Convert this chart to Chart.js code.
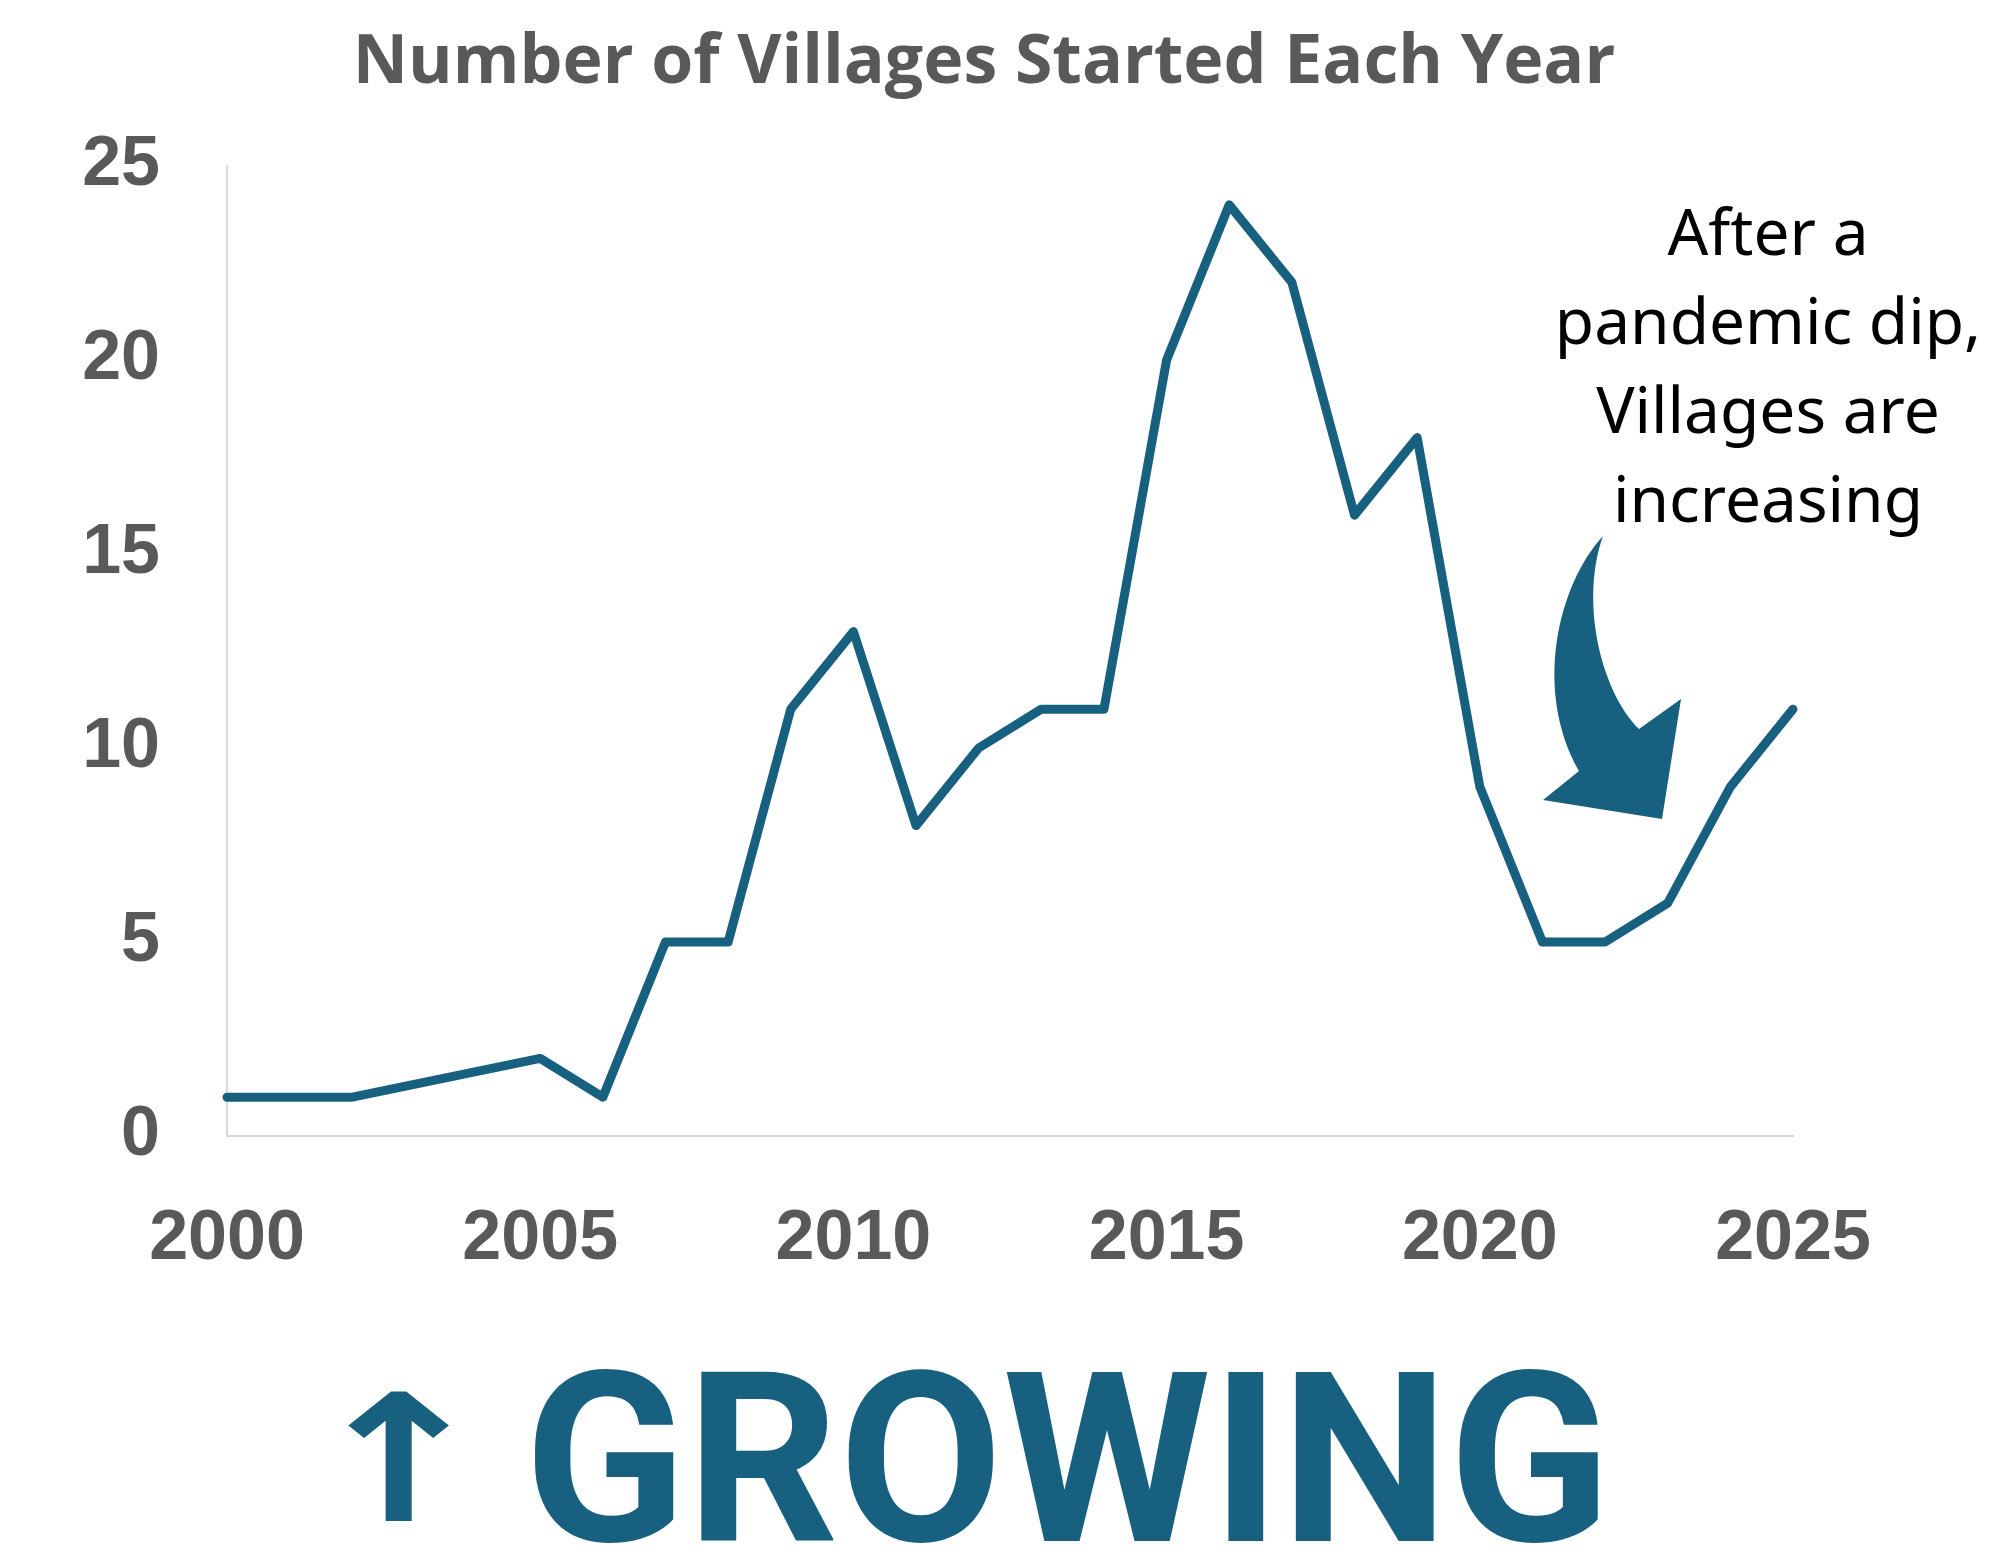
<!DOCTYPE html>
<html>
<head>
<meta charset="utf-8">
<script src="https://cdn.jsdelivr.net/npm/chart.js@4.4.1/dist/chart.umd.min.js"></script>
<style>
  html, body { margin: 0; padding: 0; background: #fff; }
  #wrap { width: 1992px; height: 1555px; }
</style>
</head>
<body>
<div id="wrap"><canvas id="villages-chart" width="1992" height="1555"></canvas></div>
<script>
// years with a value (2003, 2004 not marked)
const years = [2000, 2001, 2002, 2005, 2006, 2007, 2008, 2009, 2010, 2011, 2012, 2013,
  2014, 2015, 2016, 2017, 2018, 2019, 2020, 2021, 2022, 2023, 2024, 2025]
const villages = [1, 1, 1, 2, 1, 5, 5, 11, 13, 8, 10, 11,
  11, 20, 24, 22, 16, 18, 9, 5, 5, 6, 9, 11]
const xTicks = [2000, 2005, 2010, 2015, 2020, 2025]
const yTicks = [0, 5, 10, 15, 20, 25]

const titleText = 'Number of Villages Started Each Year'
const noteLines = ['After a', 'pandemic dip,', 'Villages are', 'increasing']
const bannerText = 'GROWING'

const blue = '#18607f'
const grey = '#595959'

const extras = {
  id: 'extras',
  afterDraw(chart) {
    let ctx = chart.ctx
    ctx.save()

    // title
    ctx.fillStyle = grey
    ctx.font = 'bold 68px "Open Sans"'
    ctx.textAlign = 'center'
    ctx.textBaseline = 'alphabetic'
    ctx.fillText(titleText, 984, 83)

    // note
    ctx.fillStyle = '#000'
    ctx.font = '64px "Noto Sans"'
    noteLines.forEach((l, i) => ctx.fillText(l, 1768, 255 + i * 89))

    // curved arrow
    ctx.fillStyle = blue
    ctx.beginPath()
    ctx.moveTo(1603, 536)
    ctx.bezierCurveTo(1558, 585, 1533, 690, 1579, 771)
    ctx.lineTo(1543, 800)
    ctx.lineTo(1662, 819)
    ctx.lineTo(1681, 699)
    ctx.lineTo(1639, 729)
    ctx.bezierCurveTo(1600, 690, 1580, 600, 1603, 536)
    ctx.closePath()
    ctx.fill()

    // banner
    ctx.textAlign = 'left'
    ctx.font = 'bold 238px Roboto'
    ctx.fillText(bannerText, 524, 1541)

    // up arrow glyph, fitted into its box
    ctx.font = 'bold 170px "DejaVu Sans"'
    let m = ctx.measureText('\u2191')
    let w = m.actualBoundingBoxLeft + m.actualBoundingBoxRight
    let h = m.actualBoundingBoxAscent + m.actualBoundingBoxDescent
    ctx.save()
    ctx.translate(347, 1391)
    ctx.scale(102 / w, 130 / h)
    ctx.fillText('\u2191', m.actualBoundingBoxLeft, m.actualBoundingBoxAscent)
    ctx.restore()

    ctx.restore()
  }
}

let ctx = document.getElementById('villages-chart').getContext('2d')
let myChart = new Chart(ctx, {
  type: 'line',
  data: {
    datasets: [{
      data: years.map((y, i) => ({ x: y, y: villages[i] })),
      borderColor: blue,
      backgroundColor: blue,
      borderWidth: 9,
      pointRadius: 0,
      borderCapStyle: 'round',
      borderJoinStyle: 'round',
      clip: false,
      tension: 0
    }]
  },
  options: {
    responsive: false,
    animation: false,
    devicePixelRatio: 1,
    layout: { padding: { left: 0, right: 199, top: 166, bottom: 269 } },
    plugins: { legend: { display: false }, tooltip: { enabled: false } },
    scales: {
      x: {
        type: 'linear',
        min: 2000,
        max: 2025,
        afterBuildTicks: (s) => { s.ticks = xTicks.map(v => ({ value: v })) },
        afterFit: (s) => { s.height = 150 },
        grid: { display: false },
        border: { color: '#d9d9d9', width: 2 },
        ticks: {
          color: grey,
          padding: 54,
          maxRotation: 0,
          font: { family: '"Liberation Sans", Arial', size: 70, weight: 'bold' },
          callback: (v) => String(v)
        }
      },
      y: {
        min: 0,
        max: 25,
        afterBuildTicks: (s) => { s.ticks = yTicks.map(v => ({ value: v })) },
        afterFit: (s) => { s.width = 227 },
        grid: { display: false },
        border: { color: '#d9d9d9', width: 2 },
        ticks: {
          color: grey,
          padding: 59,
          font: { family: '"Liberation Sans", Arial', size: 70, weight: 'bold' }
        }
      }
    }
  },
  plugins: [extras]
})
</script>
</body>
</html>
